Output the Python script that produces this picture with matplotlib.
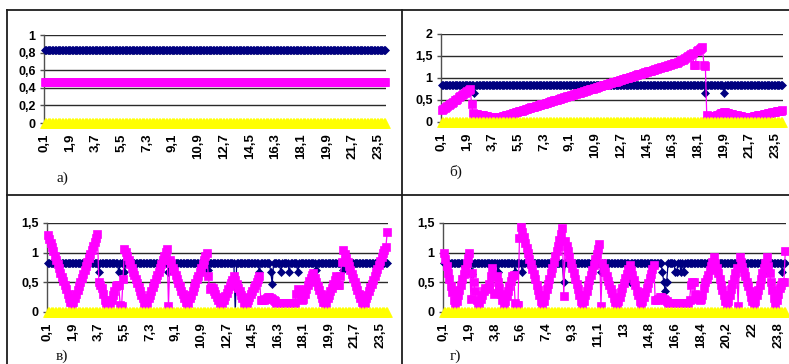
import matplotlib
matplotlib.use("Agg")
import matplotlib.pyplot as plt
import numpy as np
from matplotlib.lines import Line2D
from matplotlib.ticker import FuncFormatter

# ---------------- data ----------------
xlabels_abv = ["0,1", "1,9", "3,7", "5,5", "7,3", "9,1", "10,9", "12,7",
               "14,5", "16,3", "18,1", "19,9", "21,7", "23,5"]
xlabels_g = ["0,1", "1,9", "3,8", "5,6", "7,4", "9,3", "11,1", "13",
             "14,8", "16,6", "18,4", "20,2", "22", "23,8"]
panel_labels = ["а)", "б)", "в)", "г)"]
yticks_a = [0, 0.2, 0.4, 0.6, 0.8, 1.0]
yticks_b = [0, 0.5, 1.0, 1.5, 2.0]
yticks_vg = [0, 0.5, 1.0, 1.5]

yellow = [
    0, 0, 0, 0, 0, 0, 0, 0, 0, 0, 0, 0, 0, 0, 0, 0, 0, 0, 0, 0,
    0, 0, 0, 0, 0, 0, 0, 0, 0, 0, 0, 0, 0, 0, 0, 0, 0, 0, 0, 0,
    0, 0, 0, 0, 0, 0, 0, 0, 0, 0, 0, 0, 0, 0, 0, 0, 0, 0, 0, 0,
    0, 0, 0, 0, 0, 0, 0, 0, 0, 0, 0, 0, 0, 0, 0, 0, 0, 0, 0, 0,
    0, 0, 0, 0, 0, 0, 0, 0, 0, 0, 0, 0, 0, 0, 0, 0, 0, 0, 0, 0,
    0, 0, 0, 0, 0, 0, 0, 0, 0, 0, 0, 0, 0, 0, 0, 0, 0, 0, 0, 0,
    0, 0, 0, 0, 0, 0, 0, 0, 0, 0, 0, 0, 0, 0, 0, 0, 0, 0, 0, 0,
    0, 0, 0, 0, 0, 0, 0, 0, 0, 0, 0, 0, 0, 0, 0, 0, 0, 0, 0, 0,
    0, 0, 0, 0, 0, 0, 0, 0, 0, 0, 0, 0, 0, 0, 0, 0, 0, 0, 0, 0,
    0, 0, 0, 0, 0, 0, 0, 0, 0, 0, 0, 0, 0, 0, 0, 0, 0, 0, 0, 0,
    0, 0, 0, 0, 0, 0, 0, 0, 0, 0, 0, 0, 0, 0, 0, 0, 0, 0, 0, 0,
    0, 0, 0, 0, 0, 0, 0, 0, 0, 0, 0, 0, 0, 0, 0, 0, 0, 0, 0, 0,
]

navy_a = [
    .83, .83, .83, .83, .83, .83, .83, .83, .83, .83, .83, .83, .83, .83, .83, .83, .83, .83, .83, .83,
    .83, .83, .83, .83, .83, .83, .83, .83, .83, .83, .83, .83, .83, .83, .83, .83, .83, .83, .83, .83,
    .83, .83, .83, .83, .83, .83, .83, .83, .83, .83, .83, .83, .83, .83, .83, .83, .83, .83, .83, .83,
    .83, .83, .83, .83, .83, .83, .83, .83, .83, .83, .83, .83, .83, .83, .83, .83, .83, .83, .83, .83,
    .83, .83, .83, .83, .83, .83, .83, .83, .83, .83, .83, .83, .83, .83, .83, .83, .83, .83, .83, .83,
    .83, .83, .83, .83, .83, .83, .83, .83, .83, .83, .83, .83, .83, .83, .83, .83, .83, .83, .83, .83,
    .83, .83, .83, .83, .83, .83, .83, .83, .83, .83, .83, .83, .83, .83, .83, .83, .83, .83, .83, .83,
    .83, .83, .83, .83, .83, .83, .83, .83, .83, .83, .83, .83, .83, .83, .83, .83, .83, .83, .83, .83,
    .83, .83, .83, .83, .83, .83, .83, .83, .83, .83, .83, .83, .83, .83, .83, .83, .83, .83, .83, .83,
    .83, .83, .83, .83, .83, .83, .83, .83, .83, .83, .83, .83, .83, .83, .83, .83, .83, .83, .83, .83,
    .83, .83, .83, .83, .83, .83, .83, .83, .83, .83, .83, .83, .83, .83, .83, .83, .83, .83, .83, .83,
    .83, .83, .83, .83, .83, .83, .83, .83, .83, .83, .83, .83, .83, .83, .83, .83, .83, .83, .83, .83,
]

magenta_a = [
    .47, .47, .47, .47, .47, .47, .47, .47, .47, .47, .47, .47, .47, .47, .47, .47, .47, .47, .47, .47,
    .47, .47, .47, .47, .47, .47, .47, .47, .47, .47, .47, .47, .47, .47, .47, .47, .47, .47, .47, .47,
    .47, .47, .47, .47, .47, .47, .47, .47, .47, .47, .47, .47, .47, .47, .47, .47, .47, .47, .47, .47,
    .47, .47, .47, .47, .47, .47, .47, .47, .47, .47, .47, .47, .47, .47, .47, .47, .47, .47, .47, .47,
    .47, .47, .47, .47, .47, .47, .47, .47, .47, .47, .47, .47, .47, .47, .47, .47, .47, .47, .47, .47,
    .47, .47, .47, .47, .47, .47, .47, .47, .47, .47, .47, .47, .47, .47, .47, .47, .47, .47, .47, .47,
    .47, .47, .47, .47, .47, .47, .47, .47, .47, .47, .47, .47, .47, .47, .47, .47, .47, .47, .47, .47,
    .47, .47, .47, .47, .47, .47, .47, .47, .47, .47, .47, .47, .47, .47, .47, .47, .47, .47, .47, .47,
    .47, .47, .47, .47, .47, .47, .47, .47, .47, .47, .47, .47, .47, .47, .47, .47, .47, .47, .47, .47,
    .47, .47, .47, .47, .47, .47, .47, .47, .47, .47, .47, .47, .47, .47, .47, .47, .47, .47, .47, .47,
    .47, .47, .47, .47, .47, .47, .47, .47, .47, .47, .47, .47, .47, .47, .47, .47, .47, .47, .47, .47,
    .47, .47, .47, .47, .47, .47, .47, .47, .47, .47, .47, .47, .47, .47, .47, .47, .47, .47, .47, .47,
]

navy_b = [
    .83, .83, .83, .83, .83, .83, .83, .83, .83, .83, .83, .83, .83, .83, .83, .83, .83, .83, .83, .83,
    .83, .83, .83, .67, .83, .83, .83, .83, .83, .83, .83, .83, .83, .83, .83, .83, .83, .83, .83, .83,
    .83, .83, .83, .83, .83, .83, .83, .83, .83, .83, .83, .83, .83, .83, .83, .83, .83, .83, .83, .83,
    .83, .83, .83, .83, .83, .83, .83, .83, .83, .83, .83, .83, .83, .83, .83, .83, .83, .83, .83, .83,
    .83, .83, .83, .83, .83, .83, .83, .83, .83, .83, .83, .83, .83, .83, .83, .83, .83, .83, .83, .83,
    .83, .83, .83, .83, .83, .83, .83, .83, .83, .83, .83, .83, .83, .83, .83, .83, .83, .83, .83, .83,
    .83, .83, .83, .83, .83, .83, .83, .83, .83, .83, .83, .83, .83, .83, .83, .83, .83, .83, .83, .83,
    .83, .83, .83, .83, .83, .83, .83, .83, .83, .83, .83, .83, .83, .83, .83, .83, .83, .83, .83, .83,
    .83, .83, .83, .83, .83, .83, .83, .83, .83, .83, .83, .83, .83, .83, .83, .83, .83, .83, .83, .83,
    .83, .83, .83, .83, .83, .67, .83, .83, .83, .83, .83, .83, .83, .83, .83, .83, .83, .83, .67, .83,
    .83, .83, .83, .83, .83, .83, .83, .83, .83, .83, .83, .83, .83, .83, .83, .83, .83, .83, .83, .83,
    .83, .83, .83, .83, .83, .83, .83, .83, .83, .83, .83, .83, .83, .83, .83, .83, .83, .83, .83, .83,
]

magenta_b = [
    .27, .29, .32, .34, .37, .39, .41, .44, .46, .49, .51, .53, .56, .58, .61, .63, .65, .68, .70, .73,
    .75, .40, .20, .19, .19, .18, .17, .17, .16, .15, .14, .14, .13, .12, .12, .11, .11, .10, .10, .10,
    .11, .11, .12, .13, .14, .15, .16, .17, .18, .19, .20, .21, .22, .23, .24, .25, .26, .27, .28, .29,
    .30, .31, .32, .33, .34, .35, .36, .37, .38, .39, .40, .41, .42, .43, .44, .45, .46, .47, .48, .49,
    .50, .51, .52, .53, .54, .55, .56, .57, .58, .59, .60, .61, .62, .63, .64, .65, .66, .67, .68, .69,
    .70, .71, .72, .73, .74, .75, .76, .77, .78, .79, .80, .81, .82, .83, .84, .85, .86, .87, .88, .89,
    .90, .91, .92, .93, .94, .95, .96, .97, .98, .99, 1.00, 1.01, 1.02, 1.03, 1.04, 1.05, 1.06, 1.07, 1.08, 1.09,
    1.10, 1.11, 1.12, 1.13, 1.14, 1.15, 1.16, 1.17, 1.18, 1.19, 1.20, 1.21, 1.22, 1.23, 1.24, 1.25, 1.26, 1.27, 1.28, 1.29,
    1.30, 1.31, 1.32, 1.33, 1.34, 1.35, 1.36, 1.38, 1.40, 1.42, 1.44, 1.46, 1.48, 1.50, 1.52, 1.54, 1.56, 1.30, 1.30, 1.62,
    1.64, 1.66, 1.68, 1.70, 1.30, 1.28, .15, .13, .12, .12, .12, .13, .14, .16, .17, .19, .20, .21, .22, .22,
    .21, .20, .19, .18, .18, .17, .16, .15, .14, .14, .13, .12, .12, .11, .10, .10, .11, .11, .12, .13,
    .13, .14, .15, .16, .16, .17, .18, .18, .19, .20, .21, .21, .22, .23, .23, .24, .25, .26, .26, .27,
]

navy_v = [
    .83, .83, .83, .83, .83, .83, .83, .83, .83, .83, .83, .83, .83, .83, .83, .83, .83, .83, .83, .83,
    .83, .83, .83, .83, .83, .83, .83, .83, .83, .83, .83, .83, .83, .83, .83, .83, .67, .83, .83, .83,
    .83, .83, .83, .83, .83, .83, .83, .83, .83, .83, .67, .83, .83, .83, .67, .83, .83, .83, .83, .83,
    .83, .83, .83, .83, .83, .83, .83, .83, .83, .83, .83, .83, .83, .83, .83, .83, .83, .83, .83, .83,
    .83, .83, .83, .83, .83, .67, .83, .83, .83, .83, .83, .83, .83, .83, .83, .83, .83, .83, .83, .83,
    .83, .83, .83, .83, .83, .83, .83, .83, .83, .83, .83, .83, .83, .70, .83, .83, .83, .83, .83, .83,
    .83, .83, .83, .83, .83, .83, .83, .83, .83, .83, .83, .83, 0.0, .83, .83, .83, .83, .83, .83, .83,
    .83, .83, .83, .83, .83, .83, .83, .83, .83, .67, .83, .83, .83, .83, .83, .83, .83, .67, .48, .83,
    .83, .83, .83, .83, .67, .83, .83, .83, .83, .83, .67, .83, .83, .83, .83, .83, .67, .83, .83, .83,
    .83, .83, .83, .83, .83, .83, .83, .83, .83, .70, .83, .83, .83, .83, .83, .83, .83, .83, .83, .83,
    .83, .83, .83, .83, .83, .83, .83, .83, .70, .83, .83, .83, .83, .83, .83, .83, .83, .83, .83, .83,
    .83, .83, .83, .83, .83, .83, .83, .83, .83, .83, .83, .83, .83, .83, .83, .83, .83, .83, .83, .83,
]

magenta_v = [
    1.30, 1.23, 1.16, 1.09, 1.02, .95, .88, .81, .74, .66, .59, .52, .45, .38, .31, .24, .17, .10, .17, .23,
    .30, .37, .44, .50, .57, .64, .71, .77, .84, .91, .98, 1.04, 1.11, 1.18, 1.24, 1.31, .50, .45, .40, .30,
    .20, .15, .12, .12, .15, .20, .28, .36, .43, .45, .45, .12, .10, .55, 1.07, 1.01, .94, .88, .81, .75,
    .68, .62, .55, .49, .42, .36, .29, .23, .16, .10, .16, .23, .29, .36, .42, .49, .55, .62, .68, .75,
    .81, .88, .94, 1.01, 1.07, .10, .88, .82, .75, .69, .62, .56, .49, .43, .36, .30, .23, .17, .10, .16,
    .23, .29, .36, .42, .49, .55, .61, .68, .74, .81, .87, .94, 1.00, .60, .38, .42, .40, .35, .30, .25,
    .20, .15, .10, .16, .21, .27, .32, .38, .43, .49, .54, .60, .54, .48, .41, .35, .29, .23, .16, .10,
    .15, .20, .25, .30, .35, .40, .45, .50, .55, .60, .20, .20, .21, .22, .24, .25, .25, .24, .22, .20,
    .18, .15, .15, .15, .15, .15, .15, .15, .15, .15, .15, .15, .15, .15, .15, .30, .38, .35, .22, .20,
    .22, .30, .38, .45, .52, .58, .62, .65, .58, .51, .44, .37, .31, .24, .17, .10, .16, .23, .29, .35,
    .41, .48, .54, .60, .45, .45, .60, .85, 1.05, .98, .91, .85, .78, .71, .64, .57, .51, .44, .37, .30,
    .24, .17, .10, .16, .23, .29, .35, .42, .48, .54, .61, .67, .73, .80, .86, .92, .99, 1.05, 1.10, 1.35,
]

navy_g = [
    .83, .83, .83, .83, .83, .83, .83, .83, .83, .83, .83, .83, .83, .83, .83, .83, .83, .83, .83, .83,
    .64, .83, .83, .83, .83, .83, .83, .83, .83, .83, .83, .83, .83, .83, .83, .83, .83, .83, .67, .83,
    .83, .83, .83, .83, .83, .83, .83, .83, .83, .83, .67, .83, .83, .83, .83, .67, .83, .83, .83, .83,
    .83, .83, .83, .83, .83, .83, .83, .83, .83, .83, .83, .83, .83, .83, .83, .83, .83, .83, .83, .83,
    .83, .83, .83, .83, .50, .83, .83, .83, .83, .83, .83, .83, .83, .83, .83, .83, .83, .83, .83, .83,
    .83, .83, .83, .83, .83, .83, .83, .83, .83, .83, .67, .83, .83, .83, .83, .83, .83, .83, .83, .83,
    .83, .83, .83, .83, .83, .83, .83, .83, .83, .83, .50, .83, .83, .83, .83, .83, .83, .83, .83, .83,
    .83, .83, .83, .83, .83, .83, .83, .83, .83, .83, .83, .83, .83, .67, .50, .35, .50, .83, .83, .83,
    .83, .83, .67, .67, .83, .83, .67, .83, .67, .83, .83, .83, .83, .83, .83, .83, .83, .83, .83, .83,
    .83, .83, .83, .83, .83, .83, .83, .83, .83, .83, .83, .83, .83, .83, .83, .83, .83, .83, .83, .83,
    .83, .83, .83, .83, .83, .83, .83, .83, .83, .83, .83, .83, .83, .83, .83, .83, .83, .83, .83, .83,
    .83, .83, .83, .83, .83, .83, .83, .67, .83, .83, .83, .83, .83, .83, .83, .83, .83, .67, .83, .83,
]

magenta_g = [
    1.00, .89, .78, .66, .55, .44, .33, .21, .10, .19, .28, .37, .46, .55, .64, .73, .82, .91, 1.00, .22,
    .65, .50, .35, .20, .10, .15, .22, .28, .35, .40, .38, .40, .48, .60, .75, .30, .32, .60, .50, .40,
    .30, .20, .10, .18, .27, .35, .43, .52, .60, .62, .15, .12, .12, 1.25, 1.44, 1.35, 1.26, 1.17, 1.08, .99,
    .90, .81, .73, .64, .55, .46, .37, .28, .19, .10, .19, .29, .38, .47, .56, .66, .75, .84, .94, 1.03,
    1.12, 1.21, 1.31, 1.42, .27, 1.20, 1.11, 1.02, .93, .83, .74, .65, .56, .47, .38, .28, .19, .10, .19, .28,
    .36, .45, .54, .63, .71, .80, .89, .98, 1.06, 1.15, .10, .82, .75, .68, .60, .53, .46, .39, .32, .24,
    .17, .10, .18, .26, .33, .41, .49, .57, .64, .72, .80, .71, .63, .54, .45, .36, .28, .19, .10, .18,
    .26, .33, .41, .49, .57, .64, .72, .80, .20, .20, .22, .25, .25, .24, .22, .20, .18, .15, .15, .15,
    .15, .15, .15, .15, .15, .15, .15, .15, .15, .15, .15, .15, .20, .45, .50, .50, .30, .25, .22, .20,
    .22, .28, .40, .50, .55, .62, .70, .78, .85, .92, .83, .74, .65, .56, .46, .37, .28, .19, .10, .19,
    .28, .38, .47, .56, .65, .75, .10, .93, .85, .76, .68, .60, .51, .43, .35, .26, .18, .10, .19, .28,
    .37, .46, .55, .65, .74, .83, .92, .78, .65, .51, .37, .24, .10, .20, .30, .40, .45, .50, .50, 1.02,
]

for _name, _lst in [("yellow", yellow), ("navy_a", navy_a), ("magenta_a", magenta_a),
                    ("navy_b", navy_b), ("magenta_b", magenta_b), ("navy_v", navy_v),
                    ("magenta_v", magenta_v), ("navy_g", navy_g), ("magenta_g", magenta_g)]:
    assert len(_lst) == 240, (_name, len(_lst))

# ---------------- figure ----------------
W, H = 789, 364
fig = plt.figure(figsize=(W / 100, H / 100), dpi=100)
fig.patch.set_facecolor("white")

TICK_FONT = "Liberation Sans"
LABEL_FONT = "Liberation Serif"


def px_axes(left, top, right, bottom):
    return fig.add_axes([left / W, 1 - bottom / H, (right - left) / W, (bottom - top) / H])


def comma_fmt(v, pos):
    return ("%g" % v).replace(".", ",")


def draw(ax, navy, magenta, ylim, yticks, xlabels):
    x = np.arange(len(navy))
    ax.plot(x, navy, color="#000080", lw=0.9, marker="D", ms=4.2, mec="#000080",
            mew=0.5, zorder=3, clip_on=False)
    ax.plot(x, magenta, color="#FF00FF", lw=0.9, marker="s", ms=5.6, mec="#FF00FF",
            mew=0.5, zorder=4, clip_on=False)
    ax.plot(x, yellow, color="#FFFF00", lw=0.9, marker="^", ms=7.4, mec="#FFFF00",
            mew=0.4, zorder=5, clip_on=False)
    ax.set_xlim(-0.5, len(navy) - 0.5)
    ax.set_ylim(0, ylim)
    ax.set_yticks(yticks)
    ax.yaxis.set_major_formatter(FuncFormatter(comma_fmt))
    ax.grid(axis="y", color="#2a2a2a", lw=1.0, zorder=1)
    ax.set_axisbelow(True)
    for s in ["top", "right", "bottom"]:
        ax.spines[s].set_visible(False)
    ax.spines["left"].set_color("#505050")
    ax.spines["left"].set_linewidth(1.0)
    ax.set_xticks(x[::18])
    ax.set_xticklabels(xlabels, rotation=90, fontsize=9.5, fontweight="bold",
                       family=TICK_FONT)
    ax.tick_params(axis="x", length=0, pad=7.5)
    ax.tick_params(axis="y", length=3, width=1, color="#505050", pad=3)
    for lab in ax.get_yticklabels():
        lab.set_fontsize(9)
        lab.set_fontweight("bold")
        lab.set_family(TICK_FONT)
    ax.set_facecolor("none")


ax_a = px_axes(44, 35, 386, 123)
ax_b = px_axes(441, 34, 783, 122)
ax_v = px_axes(47, 223, 388, 312)
ax_g = px_axes(443, 223, 786, 312)

draw(ax_a, navy_a, magenta_a, 1.0, yticks_a, xlabels_abv)
draw(ax_b, navy_b, magenta_b, 2.0, yticks_b, xlabels_abv)
draw(ax_v, navy_v, magenta_v, 1.5, yticks_vg, xlabels_abv)
draw(ax_g, navy_g, magenta_g, 1.5, yticks_vg, xlabels_g)

# panel captions
for lab, (px, py) in zip(panel_labels, [(62, 178), (456, 172), (62, 356), (455, 356)]):
    fig.text(px / W, 1 - py / H, lab, family=LABEL_FONT, fontsize=11,
             ha="center", va="center", color="#111111")

# table borders
def fline(x0, y0, x1, y1):
    fig.add_artist(Line2D([x0 / W, x1 / W], [1 - y0 / H, 1 - y1 / H],
                          transform=fig.transFigure, color="#1e1e1e", lw=1.3))

fline(7, 10, W, 10)
fline(7, 10, 7, H)
fline(402, 10, 402, H)
fline(7, 195, W, 195)

fig.savefig("out.png", dpi=100, facecolor="white")
